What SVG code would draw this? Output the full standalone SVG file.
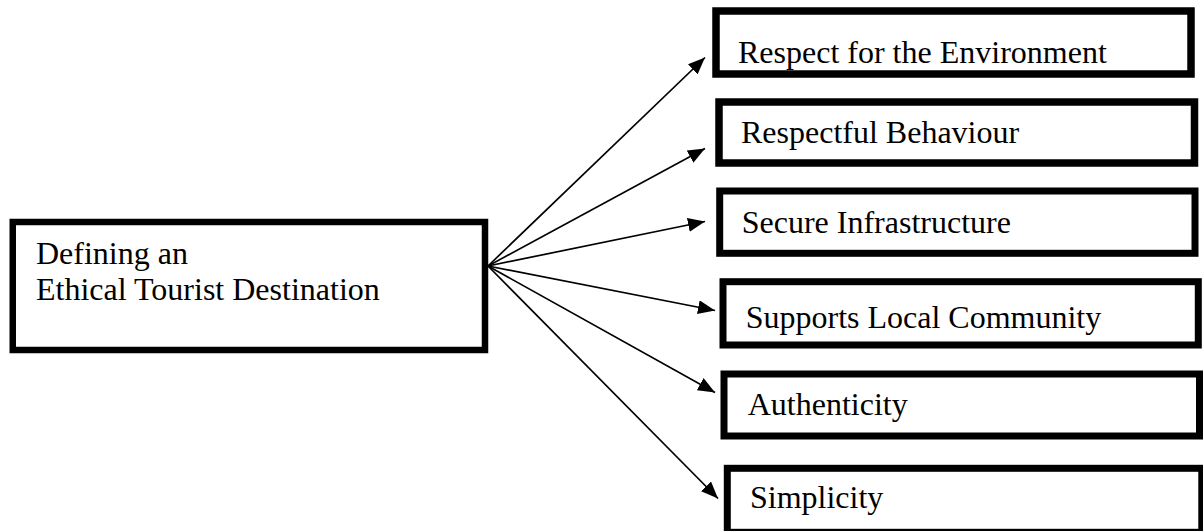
<svg xmlns="http://www.w3.org/2000/svg" width="1203" height="531" viewBox="0 0 1203 531">
  <style>
    .box { fill: #ffffff; stroke: #000000; }
    .label { font-family: "Liberation Serif", "Times New Roman", serif; font-size: 32px; fill: #000000; }
    .link { stroke: #000000; stroke-width: 1.7; fill: none; marker-end: url(#arrow); }
  </style>
  <defs>
    <marker id="arrow" markerUnits="userSpaceOnUse" viewBox="0 0 17 14" refX="17" refY="7" markerWidth="17" markerHeight="14" orient="auto">
      <path d="M0,0 L17,7 L0,14 Z" fill="#000000"/>
    </marker>
  </defs>

  <rect width="1203" height="531" fill="#ffffff"/>

  <!-- connectors from the central node to each attribute -->
  <g id="connectors">
    <line class="link" x1="488" y1="266" x2="705" y2="57.5"/>
    <line class="link" x1="488" y1="266" x2="705" y2="148.5"/>
    <line class="link" x1="488" y1="266" x2="705" y2="221.5"/>
    <line class="link" x1="488" y1="266" x2="715" y2="310.5"/>
    <line class="link" x1="488" y1="266" x2="715" y2="392.5"/>
    <line class="link" x1="488" y1="266" x2="718" y2="498.5"/>
  </g>

  <g id="node-main">
    <rect class="box" x="12.75" y="222" width="472.25" height="128" stroke-width="6.5"/>
    <text class="label" x="36" y="264">Defining an</text>
    <text class="label" x="36" y="300">Ethical Tourist Destination</text>
  </g>

  <g id="node-environment">
    <rect class="box" x="716" y="11" width="475" height="63" stroke-width="7.5"/>
    <text class="label" x="738" y="62.5">Respect for the Environment</text>
  </g>

  <g id="node-behaviour">
    <rect class="box" x="719" y="102" width="475.5" height="61" stroke-width="7.5"/>
    <text class="label" x="741" y="142.5">Respectful Behaviour</text>
  </g>

  <g id="node-infrastructure">
    <rect class="box" x="719.7" y="191" width="475.3" height="62.3" stroke-width="7"/>
    <text class="label" x="741.7" y="233.3">Secure Infrastructure</text>
  </g>

  <g id="node-community">
    <rect class="box" x="723" y="281.7" width="475.3" height="63.3" stroke-width="7"/>
    <text class="label" x="745.7" y="328.3">Supports Local Community</text>
  </g>

  <g id="node-authenticity">
    <rect class="box" x="724" y="374" width="475.5" height="62" stroke-width="7"/>
    <text class="label" x="747.7" y="415">Authenticity</text>
  </g>

  <g id="node-simplicity">
    <rect class="box" x="727.3" y="468.3" width="474.5" height="64" stroke-width="7"/>
    <text class="label" x="750" y="508.3">Simplicity</text>
  </g>
</svg>
